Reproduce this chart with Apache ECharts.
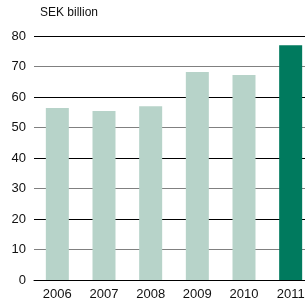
<!DOCTYPE html>
<html><head><meta charset="utf-8">
<script src="https://cdn.jsdelivr.net/npm/echarts@6/dist/echarts.min.js"></script>
<style>html,body{margin:0;padding:0;background:#fff}#c{width:305px;height:300px}</style>
</head><body><div id="c"></div>
<script>
const categories = ['2006','2007','2008','2009','2010','2011'];
const values = [56.4, 55.4, 57.0, 68.2, 67.2, 77.0];
const yTicks = [0,10,20,30,40,50,60,70,80];
const unitLabel = 'SEK billion';

const chart = echarts.init(document.getElementById('c'), null, {renderer:'canvas'});
chart.setOption({
  animation:false,
  textStyle:{fontFamily:'Liberation Sans, Arial, sans-serif'},
  graphic:[{type:'text', left:40, top:7, style:{text:unitLabel, font:'12px Liberation Sans, Arial, sans-serif', fill:'#111'}}],
  grid:{left:34, width:280, top:36, height:244, containLabel:false, outerBoundsMode:'none'},
  xAxis:{type:'category', data:categories, axisTick:{show:false},
    axisLine:{show:true, lineStyle:{color:'#000', width:1}},
    axisLabel:{color:'#111', fontSize:13, margin:8, interval:0}},
  yAxis:{type:'value', min:yTicks[0], max:yTicks[yTicks.length-1], interval:10,
    axisLine:{show:false}, axisTick:{show:false},
    axisLabel:{color:'#111', fontSize:13, margin:8},
    splitLine:{show:true, lineStyle:{color:['#000','#808080'], width:1}}},
  series:[{type:'bar', barWidth:23,
    data: values.map((v,i)=>({value:v, itemStyle:{color: i===values.length-1 ? '#007a5e' : '#b7d3c9'}}))}]
});
</script></body></html>
